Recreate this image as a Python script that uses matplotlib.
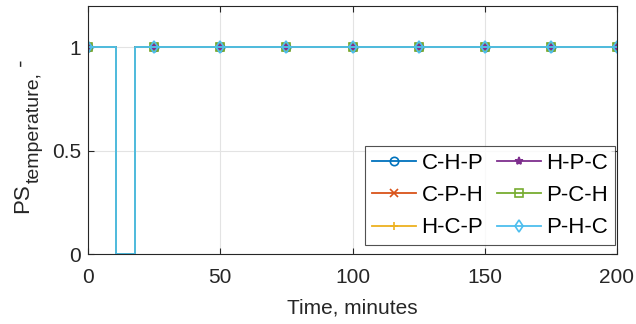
import matplotlib
matplotlib.use("Agg")
import matplotlib.pyplot as plt
from matplotlib.lines import Line2D

plt.rcParams['font.family'] = ['Liberation Sans', 'DejaVu Sans']

series_names = ["C-H-P", "C-P-H", "H-C-P", "H-P-C", "P-C-H", "P-H-C"]
colors = ["#0072BD", "#D95319", "#EDB120", "#7E2F8E", "#77AC30", "#4DBEEE"]
markers = ["o", "x", "+", "*", "s", "d"]

# step profile (time in minutes, PS value)
time_pts = [0, 10.5, 10.5, 17.8, 17.8, 200]
ps_vals = [1, 1, 0, 0, 1, 1]
marker_times = [0, 25, 50, 75, 100, 125, 150, 175, 200]
marker_vals = [1, 1, 1, 1, 1, 1, 1, 1, 1]

x_ticks = [0, 50, 100, 150, 200]
y_ticks = [0, 0.5, 1]
y_tick_labels = ["0", "0.5", "1"]

W, H = 636, 324
fig = plt.figure(figsize=(W/100, H/100), dpi=100)
ax = fig.add_axes([88/W, 1-254/H, (617-88)/W, (254-6)/H])

handles = []
for name, c, m in zip(series_names, colors, markers):
    ax.plot(time_pts, ps_vals, color=c, lw=1.3)
    mfc = 'none' if m in ('o', 's', 'd') else c
    ax.plot(marker_times, marker_vals, linestyle='none', marker=m, color=c,
            markerfacecolor=mfc, markersize=6, markeredgewidth=1.2)
    handles.append(Line2D([], [], color=c, lw=1.3, marker=m, markersize=6,
                          markerfacecolor=mfc, markeredgewidth=1.2, label=name))

ax.set_xlim(0, 200)
ax.set_ylim(0, 1.2)
ax.set_xticks(x_ticks)
ax.set_yticks(y_ticks)
ax.set_yticklabels(y_tick_labels)
ax.tick_params(labelsize=15, direction='in', length=4, colors='#262626',
               top=True, right=True)
ax.tick_params(axis='x', pad=10)
ax.tick_params(axis='y', pad=5)
for s in ax.spines.values():
    s.set_color('#262626')
    s.set_linewidth(0.8)
ax.grid(True, color='#e3e3e3', lw=0.8)
ax.set_axisbelow(True)
ax.set_xlabel("Time, minutes", fontsize=15, color='#262626', labelpad=8)

# y label: PS with large subscript, built from pieces
lab_col = '#262626'
fig.text(28/W, 1-213/H, "PS", rotation=90, rotation_mode='anchor',
         ha='left', va='baseline', fontsize=16, color=lab_col)
fig.text(39/W, 1-183/H, "temperature,", rotation=90, rotation_mode='anchor',
         ha='left', va='baseline', fontsize=14, color=lab_col)
fig.text(28/W, 1-73/H, " -", rotation=90, rotation_mode='anchor',
         ha='left', va='baseline', fontsize=16, color=lab_col)

leg = ax.legend(handles=handles, ncol=2, loc='lower right', fontsize=16,
                handlelength=2.0, frameon=True, fancybox=False, edgecolor='#262626',
                borderaxespad=0.0, columnspacing=0.6, handletextpad=0.25,
                labelspacing=0.5, borderpad=0.3,
                bbox_to_anchor=(615/W, 1-245/H), bbox_transform=fig.transFigure)
leg.get_frame().set_linewidth(0.8)
fig.savefig("out.png", dpi=100)
